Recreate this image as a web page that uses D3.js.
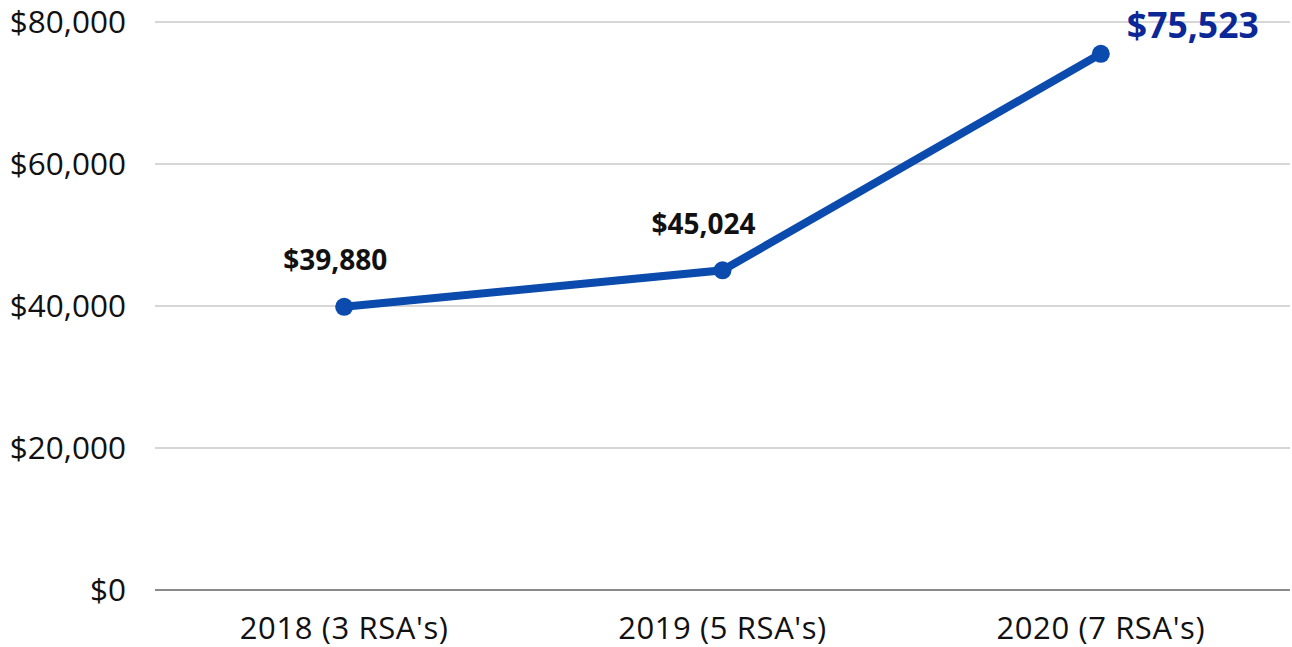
<!DOCTYPE html>
<html><head><meta charset="utf-8">
<script src="https://cdn.jsdelivr.net/npm/d3@7"></script>
<style>body{margin:0;background:#fff}svg{display:block}</style>
</head><body>
<svg id="c" width="1292" height="647"></svg>
<script>
const categories = ["2018 (3 RSA's)", "2019 (5 RSA's)", "2020 (7 RSA's)"];
const values = [39880, 45024, 75523];
const valueLabels = ["$39,880", "$45,024", "$75,523"];
const yTicks = [0, 20000, 40000, 60000, 80000];

const svg = d3.select("#c");
const m = {l:155, r:1290, t:22, b:590};
const x = d3.scalePoint().domain(categories).range([m.l, m.r]).padding(0.5);
const y = d3.scaleLinear().domain([0, 80000]).range([m.b, m.t]);
const font = "'Open Sans', sans-serif";

// gridlines
svg.append("g").selectAll("line").data(yTicks.filter(d=>d>0)).join("line")
  .attr("x1", m.l).attr("x2", m.r).attr("y1", d=>y(d)).attr("y2", d=>y(d))
  .attr("stroke", "#c9c9c9").attr("stroke-width", 1.5);
svg.append("line").attr("x1", m.l).attr("x2", m.r).attr("y1", y(0)).attr("y2", y(0))
  .attr("stroke", "#8a8a8a").attr("stroke-width", 2);

// y labels
const fmt = d => "$" + d3.format(",")(d);
svg.append("g").selectAll("text").data(yTicks).join("text")
  .attr("x", 126).attr("y", d=>y(d)+11).attr("text-anchor", "end")
  .attr("font-family", font).attr("font-size", 31.5).attr("fill", "#111")
  .text(fmt);

// x labels
svg.append("g").selectAll("text").data(categories).join("text")
  .attr("x", d=>x(d)).attr("y", 639).attr("text-anchor", "middle")
  .attr("font-family", font).attr("font-size", 31).attr("letter-spacing", 0.6)
  .attr("fill", "#111")
  .text(d=>d);

// line
const data = categories.map((c,i)=>({c, v:values[i], l:valueLabels[i]}));
svg.append("path").datum(data)
  .attr("d", d3.line().x(d=>x(d.c)).y(d=>y(d.v)))
  .attr("fill", "none").attr("stroke", "#0a4bad").attr("stroke-width", 8)
  .attr("stroke-linecap", "round");
svg.append("g").selectAll("circle").data(data).join("circle")
  .attr("cx", d=>x(d.c)).attr("cy", d=>y(d.v)).attr("r", 9)
  .attr("fill", "#0a4bad");

// value labels
const offs = [[-9,-37,"middle",28,"#111"],[-19,-36,"middle",28,"#111"],[26,-16,"start",35.5,"#0c2796"]];
svg.append("g").selectAll("text").data(data).join("text")
  .attr("x", (d,i)=>x(d.c)+offs[i][0]).attr("y", (d,i)=>y(d.v)+offs[i][1])
  .attr("text-anchor", (d,i)=>offs[i][2])
  .attr("font-family", font).attr("font-weight", "bold")
  .attr("font-size", (d,i)=>offs[i][3]).attr("fill", (d,i)=>offs[i][4])
  .text(d=>d.l);
</script>
</body></html>
